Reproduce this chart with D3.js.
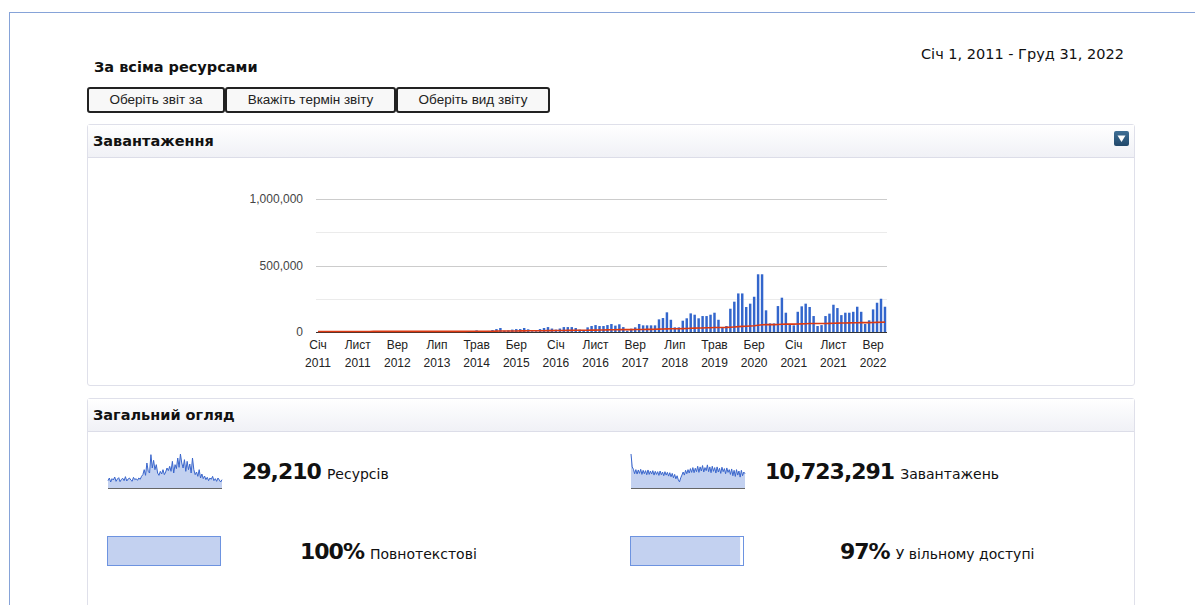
<!DOCTYPE html>
<html>
<head>
<meta charset="utf-8">
<script src="https://cdn.jsdelivr.net/npm/d3@7"></script>
<style>
body{margin:0;width:1195px;height:605px;overflow:hidden;background:#fff;font-family:"DejaVu Sans",Verdana,sans-serif;position:relative;color:#111}
#frame{position:absolute;left:9px;top:12px;width:1190px;height:600px;border-top:1px solid #86a3d8;border-left:1px solid #86a3d8}
#title{position:absolute;left:94px;top:59px;font-weight:bold;font-size:14.5px}
#range{position:absolute;left:921px;top:46px;font-size:14.5px}
.btn{position:absolute;top:87px;height:26px;box-sizing:border-box;border:2px solid #222;border-radius:3px;background:#f8f8f8;font-family:"Liberation Sans",Arial,sans-serif;font-size:13.5px;text-align:center;line-height:22px;color:#222}
.panel{position:absolute;left:87px;width:1048px;box-sizing:border-box;border:1px solid #dfe0ea;border-radius:3px}
.hd{height:32px;border-bottom:1px solid #dcdde8;background:linear-gradient(#fff,#f0f1f6);font-weight:bold;font-size:14.5px;line-height:33px;padding-left:5px;position:relative}
.icon{position:absolute;right:5px;top:6px;width:15px;height:15px;border-radius:2px;background:linear-gradient(#3f6f96,#21486a)}
svg{position:absolute;overflow:visible}
.stat{position:absolute;white-space:nowrap;font-size:14px}
.stat b{font-size:22px;letter-spacing:-1px;margin-right:6px}
</style>
</head>
<body>
<div id="frame"></div>
<div id="title">За всіма ресурсами</div>
<div id="range">Січ 1, 2011 - Груд 31, 2022</div>
<div class="btn" style="left:87px;width:138px">Оберіть звіт за</div>
<div class="btn" style="left:225px;width:171px">Вкажіть термін звіту</div>
<div class="btn" style="left:396px;width:154px">Оберіть вид звіту</div>
<div class="panel" style="top:124px;height:262px"><div class="hd">Завантаження<div class="icon"></div></div></div>
<div class="panel" style="top:398px;height:230px"><div class="hd">Загальний огляд</div></div>
<script>
// data
const monthNames = ["Січ","Лют","Бер","Квіт","Трав","Черв","Лип","Серп","Вер","Жовт","Лист","Груд"]
const years = [2011,2012,2013,2014,2015,2016,2017,2018,2019,2020,2021,2022]
const downloads = [
  300,400,350,500,450,600,400,500,650,700,600,550,
  800,900,850,1000,1100,900,800,1200,1300,1400,1200,1100,
  1500,1700,1600,1900,2100,1800,1500,2200,2500,2800,2600,2400,
  3000,3000,4000,5000,12000,5000,4000,8000,15000,22000,30000,10000,
  12000,18000,22000,22000,30000,20000,6000,6000,22000,30000,37000,26000,
  18000,26000,37000,37000,37000,30000,18000,8000,35000,45000,52000,45000,
  45000,52000,60000,48000,58000,37000,10000,25000,35000,60000,50000,50000,
  50000,50000,95000,105000,148000,92000,35000,35000,85000,103000,140000,130000,
  103000,120000,120000,130000,145000,92000,35000,45000,175000,228000,290000,290000,
  188000,213000,265000,434000,434000,163000,65000,65000,195000,258000,145000,58000,
  50000,152000,193000,213000,188000,120000,45000,52000,120000,138000,205000,180000,
  127000,145000,145000,152000,190000,152000,60000,88000,170000,220000,250000,190000
]
const yTicks = [0,250000,500000,750000,1000000]
const yLabels = [0,500000,1000000]
const tickEvery = 10

const resourcesSpark = [22,30,18,28,24,33,20,27,31,19,26,29,22,34,21,27,30,24,20,32,25,28,23,30,26,35,
  40,55,38,75,50,45,100,60,83,55,70,
  45,38,50,42,55,40,48,60,52,
  65,50,80,45,70,58,90,62,102,75,
  60,85,50,80,55,72,45,90,55,40,
  48,35,55,30,42,28,36,25,32,22,30,26,35,22,28,20,30,24,18,25]
const downloadsSpark = [100,62,
  55,42,54,41,53,43,55,40,52,42,51,39,53,40,50,41,51,38,49,40,48,37,50,39,47,36,48,38,46,35,45,33,43,30,40,27,36,24,18,30,
  38,47,38,52,42,54,44,57,46,60,45,58,48,64,46,62,50,66,47,60,51,68,48,62,45,64,49,60,44,62,47,58,43,61,48,57,42,59,46,54,
  40,56,36,52,34,54,38,50,32,52,36,47,42]
const stats = [
  {value: 29210, fmt: ",", label: "Ресурсів"},
  {value: 10723291, fmt: ",", label: "Завантажень"},
  {value: 100, fmt: "pct", label: "Повнотекстові"},
  {value: 97, fmt: "pct", label: "У вільному доступі"}
]

let body = d3.select("body")
let months = years.flatMap(y => monthNames.map(m => ({m: m, y: y})))
months.forEach((d, i) => d.v = downloads[i])

// running mean line
let cum = 0
let mean = downloads.map((v, i) => { cum += v; return cum / (i + 1) })

// main chart
let margin = {left: 228, top: 42}
let w = 571, h = 133
let svg = body.append("svg")
    .attr("width", 1046).attr("height", 228)
    .style("left", "88px").style("top", "157px")
let g = svg.append("g").attr("transform", `translate(${margin.left},${margin.top})`)

let x = d3.scaleBand().domain(d3.range(months.length)).range([0, w]).paddingInner(0.38).paddingOuter(0.2)
let y = d3.scaleLinear().domain([0, 1000000]).range([h, 0])

g.selectAll(".grid").data(yTicks).enter().append("line")
    .attr("x1", 0).attr("x2", w)
    .attr("y1", d => Math.round(y(d)) + 0.5).attr("y2", d => Math.round(y(d)) + 0.5)
    .attr("stroke", d => yLabels.includes(d) ? "#cccccc" : "#ebebeb")

g.selectAll(".ylab").data(yLabels).enter().append("text")
    .attr("x", -13).attr("y", d => y(d)).attr("dy", "0.35em")
    .attr("text-anchor", "end")
    .attr("font-family", "Liberation Sans, Arial").attr("font-size", 12).attr("fill", "#444")
    .text(d => d3.format(",")(d))

g.selectAll("rect").data(months).enter().append("rect")
    .attr("x", (d, i) => x(i)).attr("width", x.bandwidth())
    .attr("y", d => y(d.v)).attr("height", d => h - y(d.v))
    .attr("fill", "#3366cc")

g.append("line").attr("x1", 0).attr("x2", w).attr("y1", h + 0.5).attr("y2", h + 0.5).attr("stroke", "#333")

g.append("path").datum(mean)
    .attr("fill", "none").attr("stroke", "#dc3912").attr("stroke-width", 1.6)
    .attr("d", d3.line().x((d, i) => x(i) + x.bandwidth() / 2).y(d => y(d) - 0.5))

let ticks = months.map((d, i) => i).filter(i => i % tickEvery == 0)
let xl = g.selectAll(".xlab").data(ticks).enter().append("text")
    .attr("transform", i => `translate(${x(i) + x.bandwidth() / 2},${h})`)
    .attr("text-anchor", "middle")
    .attr("font-family", "Liberation Sans, Arial").attr("font-size", 12).attr("fill", "#222")
xl.append("tspan").attr("x", 0).attr("y", 17).text(i => months[i].m)
xl.append("tspan").attr("x", 0).attr("y", 35).text(i => months[i].y)

// sparklines
function spark(data, left, top) {
    let sw = 114, sh = 35
    let s = body.append("svg").attr("width", sw).attr("height", sh + 2)
        .style("left", left + "px").style("top", top + "px")
    let sx = d3.scaleLinear().domain([0, data.length - 1]).range([0, sw])
    let sy = d3.scaleLinear().domain([0, d3.max(data)]).range([sh, 1])
    s.append("path").datum(data).attr("fill", "#c3d1f0")
        .attr("d", d3.area().x((d, i) => sx(i)).y0(sh).y1(d => sy(d)))
    s.append("path").datum(data).attr("fill", "none").attr("stroke", "#3a66cc").attr("stroke-width", 1)
        .attr("d", d3.line().x((d, i) => sx(i)).y(d => sy(d)))
    s.append("line").attr("x1", 0).attr("x2", sw).attr("y1", sh + 0.5).attr("y2", sh + 0.5).attr("stroke", "#666")
}
spark(resourcesSpark, 108, 453)
spark(downloadsSpark, 631, 453)

// percent bars
function pbar(pct, left, top) {
    let bw = 114, bh = 30
    let s = body.append("svg").attr("width", bw).attr("height", bh)
        .style("left", left + "px").style("top", top + "px")
    let px = d3.scaleLinear().domain([0, 100]).range([0, bw - 1])
    s.append("rect").attr("x", 0.5).attr("y", 0.5).attr("width", bw - 1).attr("height", bh - 1).attr("fill", "#fff")
    s.append("rect").attr("x", 0.5).attr("y", 0.5).attr("width", px(pct)).attr("height", bh - 1).attr("fill", "#c3d1f0")
    s.append("rect").attr("x", 0.5).attr("y", 0.5).attr("width", bw - 1).attr("height", bh - 1)
        .attr("fill", "none").attr("stroke", "#6d93e0")
}
pbar(stats[2].value, 107, 536)
pbar(stats[3].value, 630, 536)

// stat texts
let statPos = [[242, 459], [765, 459], [300, 539], [840, 539]]
stats.forEach((d, i) => {
    let div = body.append("div").attr("class", "stat")
        .style("left", statPos[i][0] + "px").style("top", statPos[i][1] + "px")
    div.append("b").text(d.fmt == "pct" ? d.value + "%" : d3.format(",")(d.value))
    div.append("span").text(d.label)
})

// header icon triangle
d3.select(".icon").append("svg").attr("width", 15).attr("height", 15).style("left", "0px").style("top", "0px")
    .append("path").attr("d", "M3.5,4.5 L11.5,4.5 L7.5,11 Z").attr("fill", "#fff")
</script>
</body>
</html>
